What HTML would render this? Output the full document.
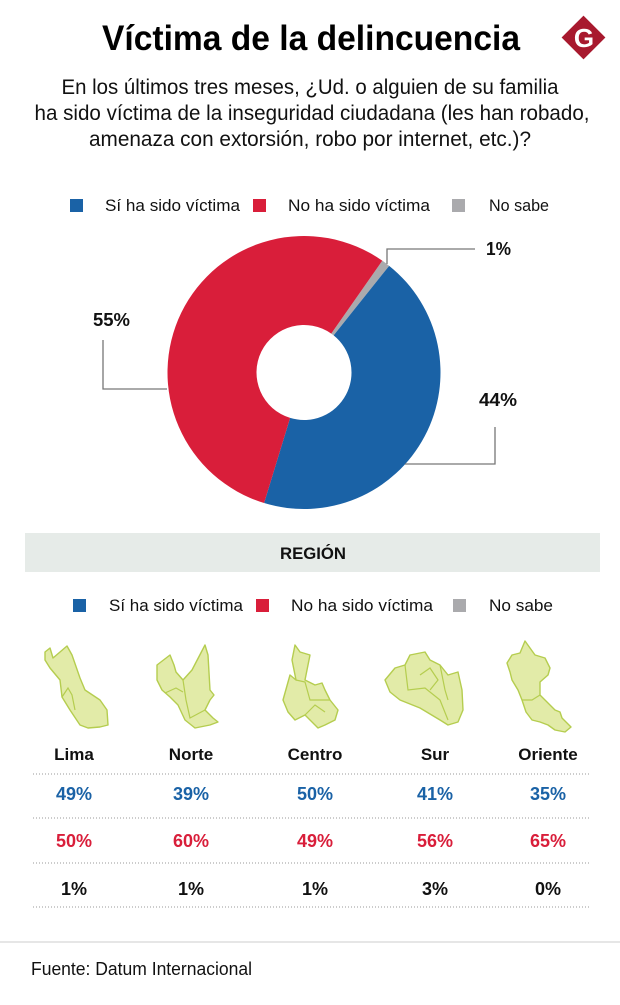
<!DOCTYPE html>
<html><head><meta charset="utf-8">
<style>
html,body{margin:0;padding:0;background:#fff;}
svg{display:block;}
text{font-family:"Liberation Sans Narrow","Liberation Sans",sans-serif;}
</style></head>
<body>
<svg id="chart" width="620" height="1005" viewBox="0 0 620 1005" xmlns="http://www.w3.org/2000/svg">
  <text x="311" y="50" text-anchor="middle" font-size="35" font-weight="bold" fill="#000" textLength="418" lengthAdjust="spacingAndGlyphs">Víctima de la delincuencia</text>
  <g>
    <rect x="568" y="22" width="31" height="31" fill="#a8192e" transform="rotate(45 583.5 37.5)"/>
    <text x="584" y="47" text-anchor="middle" font-size="26" font-weight="bold" fill="#fff" font-family="Liberation Serif, serif">G</text>
  </g>
  <g font-size="21" fill="#111">
    <text x="310" y="94" text-anchor="middle" textLength="497" lengthAdjust="spacingAndGlyphs">En los últimos tres meses, ¿Ud. o alguien de su familia</text>
    <text x="312" y="120" text-anchor="middle" textLength="555" lengthAdjust="spacingAndGlyphs">ha sido víctima de la inseguridad ciudadana (les han robado,</text>
    <text x="310" y="146" text-anchor="middle" textLength="442" lengthAdjust="spacingAndGlyphs">amenaza con extorsión, robo por internet, etc.)?</text>
  </g>
  <g font-size="17" fill="#111">
    <rect x="70" y="199" width="13" height="13" fill="#1a62a6"/>
    <text x="105" y="211" textLength="135" lengthAdjust="spacingAndGlyphs">Sí ha sido víctima</text>
    <rect x="253" y="199" width="13" height="13" fill="#d91e3a"/>
    <text x="288" y="211" textLength="142" lengthAdjust="spacingAndGlyphs">No ha sido víctima</text>
    <rect x="452" y="199" width="13" height="13" fill="#aaaaad"/>
    <text x="489" y="211" textLength="60" lengthAdjust="spacingAndGlyphs">No sabe</text>
  </g>
  <g id="donut"></g>
  <g stroke="#777" stroke-width="1.3" fill="none">
    <polyline points="103,340 103,389 167,389"/>
    <polyline points="387,264 387,249 475,249"/>
    <polyline points="405,464 495,464 495,427"/>
  </g>
  <g font-size="18" font-weight="bold" fill="#111">
    <text x="93" y="326" textLength="37" lengthAdjust="spacingAndGlyphs">55%</text>
    <text x="486" y="255" textLength="25" lengthAdjust="spacingAndGlyphs">1%</text>
    <text x="479" y="406" textLength="38" lengthAdjust="spacingAndGlyphs">44%</text>
  </g>
  <rect x="25" y="533" width="575" height="39" fill="#e6ebe8"/>
  <text x="313" y="559" text-anchor="middle" font-size="17" font-weight="bold" fill="#111" textLength="66" lengthAdjust="spacingAndGlyphs">REGIÓN</text>
  <g font-size="17" fill="#111">
    <rect x="73" y="599" width="13" height="13" fill="#1a62a6"/>
    <text x="109" y="611" textLength="134" lengthAdjust="spacingAndGlyphs">Sí ha sido víctima</text>
    <rect x="256" y="599" width="13" height="13" fill="#d91e3a"/>
    <text x="291" y="611" textLength="142" lengthAdjust="spacingAndGlyphs">No ha sido víctima</text>
    <rect x="453" y="599" width="13" height="13" fill="#aaaaad"/>
    <text x="489" y="611" textLength="64" lengthAdjust="spacingAndGlyphs">No sabe</text>
  </g>
  <g fill="#e2eba8" stroke="#b5cd4f" stroke-width="1.4" stroke-linejoin="round">
    <polygon points="45,652 50,648 53,658 67,646 72,655 80,678 85,690 100,700 107,710 108,725 100,727 88,728 80,725 70,710 62,697 60,680 50,668 45,660"/>
    <polygon points="157,665 170,655 174,665 176,672 183,680 192,670 205,645 208,655 210,690 214,695 210,700 205,710 213,718 218,722 210,725 195,728 185,720 178,705 170,697 162,690 157,680"/>
    <polygon points="283,700 290,675 296,680 292,660 295,645 300,652 310,655 308,665 305,680 315,685 322,683 325,690 330,700 338,710 335,720 325,725 318,728 312,722 305,715 295,720 288,712"/>
    <polygon points="385,680 395,668 405,665 410,655 425,652 430,660 440,665 448,675 458,672 462,690 463,710 458,722 448,725 440,720 420,708 400,700 390,692"/>
    <polygon points="507,663 512,655 520,653 525,641 530,648 535,655 545,658 550,668 548,675 540,682 540,695 545,700 555,710 560,712 562,718 571,727 565,732 555,730 548,725 540,722 532,720 526,712 522,700 518,690 512,680 510,672"/>
  </g>
  <g fill="none" stroke="#b5cd4f" stroke-width="1.2">
    <polyline points="62,697 68,688 72,695 75,710"/>
    <polyline points="183,680 186,700 190,718 205,710"/>
    <polyline points="165,693 176,688 183,692"/>
    <polyline points="296,680 305,682 310,700 330,700"/>
    <polyline points="305,715 315,705 325,712"/>
    <polyline points="405,665 408,690 425,688 440,700 448,720"/>
    <polyline points="420,675 430,668 438,680 430,690"/>
    <polyline points="440,665 445,690 448,700"/>
    <polyline points="522,700 532,700 540,695"/>
  </g>
  <g id="table"></g>
  <line x1="0" y1="942" x2="620" y2="942" stroke="#ddd" stroke-width="1.5"/>
  <text x="31" y="975" font-size="18" fill="#111" textLength="221" lengthAdjust="spacingAndGlyphs">Fuente: Datum Internacional</text>
</svg>
<script>
// Donut data
const donutCategories = ["No sabe", "Sí ha sido víctima", "No ha sido víctima"];
const donutValues = [1, 44, 55];
const donutColors = ["#aaaaad", "#1a62a6", "#d91e3a"];
// Region table data
const regions = ["Lima", "Norte", "Centro", "Sur", "Oriente"];
const siValues = [49, 39, 50, 41, 35];
const noValues = [50, 60, 49, 56, 65];
const noSabeValues = [1, 1, 1, 3, 0];

const NS = "http://www.w3.org/2000/svg";
const cx = 304, cy = 372.5, R = 136.5, r = 47.5, startDeg = 35;
const total = donutValues.reduce((a, b) => a + b, 0);
function angleScale(v) { return v / total * 360; }
function pt(deg, rad) { const a = (deg - 90) * Math.PI / 180; return [cx + rad * Math.cos(a), cy + rad * Math.sin(a)]; }
const donut = document.getElementById("donut");
let acc = startDeg;
donutValues.forEach((v, i) => {
  const a0 = acc, a1 = acc + angleScale(v); acc = a1;
  const large = (a1 - a0) > 180 ? 1 : 0;
  const p0 = pt(a0, R), p1 = pt(a1, R), q1 = pt(a1, r), q0 = pt(a0, r);
  const d = `M${p0[0]},${p0[1]} A${R},${R} 0 ${large} 1 ${p1[0]},${p1[1]} L${q1[0]},${q1[1]} A${r},${r} 0 ${large} 0 ${q0[0]},${q0[1]} Z`;
  const path = document.createElementNS(NS, "path");
  path.setAttribute("d", d);
  path.setAttribute("fill", donutColors[i]);
  
  
  donut.appendChild(path);
});

const table = document.getElementById("table");
const colX = [74, 191, 315, 435, 548];
function xCol(i) { return colX[i]; }
function addText(x, y, str, fill, name, size) {
  const t = document.createElementNS(NS, "text");
  t.setAttribute("x", x); t.setAttribute("y", y);
  t.setAttribute("text-anchor", "middle");
  t.setAttribute("font-size", size);
  t.setAttribute("font-weight", "bold");
  t.setAttribute("fill", fill);
  t.textContent = str;
  
  
  table.appendChild(t);
}
[774, 818, 863, 907].forEach((y, k) => {
  const l = document.createElementNS(NS, "line");
  l.setAttribute("x1", 33); l.setAttribute("x2", 591);
  l.setAttribute("y1", y); l.setAttribute("y2", y);
  l.setAttribute("stroke", "#999"); l.setAttribute("stroke-width", "1");
  l.setAttribute("stroke-dasharray", "1 2");
  
  
  table.appendChild(l);
});
regions.forEach((reg, i) => {
  addText(xCol(i), 760, reg, "#111", "region-name", 17);
  addText(xCol(i), 800, siValues[i] + "%", "#1a62a6", "value-si", 18);
  addText(xCol(i), 847, noValues[i] + "%", "#d91e3a", "value-no", 18);
  addText(xCol(i), 895, noSabeValues[i] + "%", "#111", "value-nosabe", 18);
});
</script>
</body></html>
